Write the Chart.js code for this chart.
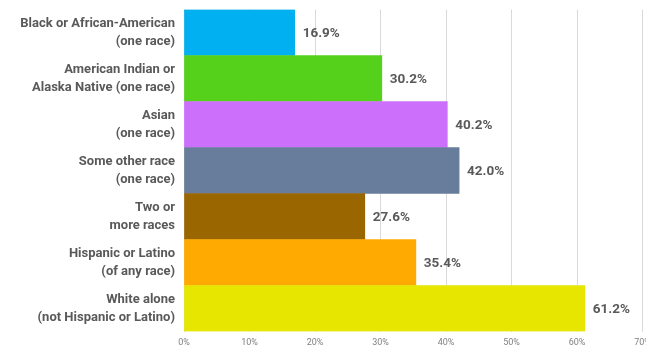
<!DOCTYPE html>
<html>
<head>
<meta charset="utf-8">
<script src="https://cdn.jsdelivr.net/npm/chart.js@4/dist/chart.umd.min.js"></script>
<style>
  html, body { margin: 0; padding: 0; background: #ffffff; overflow: hidden; }
  #wrap { width: 652px; height: 350px; position: relative; }
</style>
</head>
<body>
<div id="wrap"><canvas id="raceChart"></canvas></div>
<script>
// categories (two-line labels), top to bottom
const CATEGORIES = [
  ['Black or African-American', '(one race)'],
  ['American Indian or', 'Alaska Native (one race)'],
  ['Asian', '(one race)'],
  ['Some other race', '(one race)'],
  ['Two or', 'more races'],
  ['Hispanic or Latino', '(of any race)'],
  ['White alone', '(not Hispanic or Latino)']
];

// percent values
const VALUES = [16.9, 30.2, 40.2, 42.0, 27.6, 35.4, 61.2];

const BAR_COLORS = ['#00b0f0', '#56d11b', '#cc70fb', '#687d9b', '#9a6600', '#ffaa00', '#e6e600'];

// x axis ticks
const X_MIN = 0;
const X_MAX = 70;
const X_STEP = 10;

const FONT = 'Roboto, "DejaVu Sans Condensed", sans-serif';

// draws "16.9%" etc. right of each bar
const valueLabels = {
  id: 'valueLabels',
  afterDatasetsDraw(chart) {
    const ctx = chart.ctx;
    const meta = chart.getDatasetMeta(0);
    ctx.save();
    ctx.font = 'bold 13.5px ' + FONT;
    ctx.fillStyle = '#595959';
    ctx.textAlign = 'left';
    ctx.textBaseline = 'middle';
    meta.data.forEach((bar, i) => {
      ctx.fillText(VALUES[i].toFixed(1) + '%', bar.x + 8, bar.y + 1);
    });
    ctx.restore();
  }
};

const ctx = document.getElementById('raceChart').getContext('2d');
new Chart(ctx, {
  type: 'bar',
  data: {
    labels: CATEGORIES,
    datasets: [{
      data: VALUES,
      backgroundColor: BAR_COLORS,
      borderWidth: 0,
      barPercentage: 1,
      categoryPercentage: 1
    }]
  },
  options: {
    indexAxis: 'y',
    responsive: true,
    maintainAspectRatio: false,
    animation: false,
    layout: { padding: { top: 9.5, bottom: 0, left: 0, right: 9.5 } },
    plugins: {
      legend: { display: false },
      tooltip: { enabled: false }
    },
    scales: {
      x: {
        min: X_MIN,
        max: X_MAX,
        ticks: {
          stepSize: X_STEP,
          color: '#808080',
          font: { family: FONT, size: 9 },
          padding: 6,
          callback: v => v + '%'
        },
        grid: { color: '#d9d9d9', drawTicks: false },
        border: { display: false },
        afterFit: s => { s.height = 18.5; s.paddingLeft = 0; s.paddingRight = 0; }
      },
      y: {
        ticks: {
          color: '#595959',
          font: { family: FONT, size: 13, weight: 'bold', lineHeight: 1.42 },
          padding: 9
        },
        grid: { display: false, drawTicks: false },
        border: { display: false },
        afterFit: s => { s.width = 184; s.paddingTop = 0; s.paddingBottom = 0; }
      }
    }
  },
  plugins: [valueLabels]
});
</script>
</body>
</html>
